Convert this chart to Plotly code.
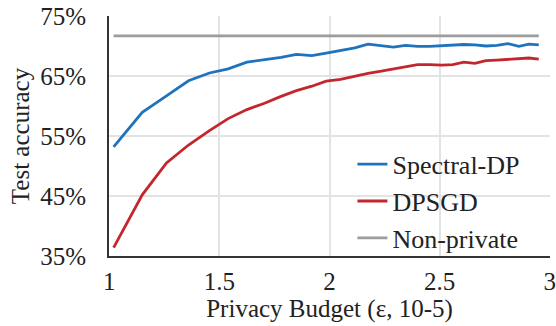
import plotly.graph_objects as go

# Privacy budget (epsilon, delta = 1e-5) at each evaluation point
epsilon = [1.02, 1.15, 1.26, 1.36, 1.455, 1.54, 1.625, 1.705, 1.78, 1.85,
           1.92, 1.985, 2.05, 2.115, 2.175, 2.235, 2.29, 2.345, 2.40, 2.455,
           2.51, 2.56, 2.61, 2.66, 2.71, 2.76, 2.81, 2.86, 2.905, 2.95]

# Test accuracy (%) per method
spectral_dp = [53.2, 58.95, 61.7, 64.2, 65.5, 66.2, 67.3, 67.7, 68.1, 68.6,
               68.4, 68.8, 69.2, 69.7, 70.3, 70.05, 69.8, 70.1, 69.95, 69.95,
               70.05, 70.2, 70.25, 70.2, 70.0, 70.1, 70.4, 69.95, 70.3, 70.2]
dpsgd = [36.4, 45.2, 50.5, 53.5, 55.9, 57.9, 59.4, 60.45, 61.6, 62.55,
         63.3, 64.15, 64.45, 65.0, 65.45, 65.8, 66.2, 66.6, 66.9, 66.9,
         66.8, 66.9, 67.3, 67.1, 67.55, 67.65, 67.8, 67.95, 68.0, 67.8]
non_private_acc = 71.7

x_ticks = [1, 1.5, 2, 2.5, 3]
x_tick_labels = ["1", "1.5", "2", "2.5", "3"]
y_ticks = [35, 45, 55, 65, 75]
y_tick_labels = ["35%", "45%", "55%", "65%", "75%"]

series = [
    ("Spectral-DP", spectral_dp, "#1f73bd"),
    ("DPSGD", dpsgd, "#c3272e"),
    ("Non-private", [non_private_acc] * len(epsilon), "#9c9c9c"),
]

FAMILY = "Liberation Serif"
TEXT = "#222222"
SIZE = 25

fig = go.Figure()
for i, (name, vals, color) in enumerate(series):
    fig.add_trace(go.Scatter(
        x=epsilon, y=vals, name=name, mode="lines",
        line=dict(color=color, width=2.8),
        legendgroup=f"g{i}",
    ))

fig.update_layout(
    width=556, height=326,
    margin=dict(l=109, r=6, t=16, b=70),
    plot_bgcolor="white", paper_bgcolor="white",
    font=dict(family=FAMILY, size=SIZE, color=TEXT),
    showlegend=True,
    legend=dict(
        x=0.552, y=0.48, xanchor="left", yanchor="top",
        bgcolor="rgba(0,0,0,0)",
        font=dict(family=FAMILY, size=26, color=TEXT),
        traceorder="grouped", tracegroupgap=0, itemwidth=30,
    ),
    xaxis=dict(
        range=[0.999, 3.001], tickvals=x_ticks, ticktext=x_tick_labels,
        tickfont=dict(family=FAMILY, size=SIZE, color=TEXT),
        ticklabeloverflow="allow",
        showgrid=True, gridcolor="#e3e3e3", gridwidth=1.5,
        showline=True, linecolor="#333333", linewidth=2,
        ticks="", ticklabelstandoff=2, zeroline=False, automargin=False,
        title=dict(text="Privacy Budget (ε, 10-5)", standoff=0,
                   font=dict(family=FAMILY, size=SIZE, color=TEXT)),
    ),
    yaxis=dict(
        range=[35, 75], tickvals=y_ticks, ticktext=y_tick_labels,
        tickfont=dict(family=FAMILY, size=SIZE, color=TEXT),
        showgrid=True, gridcolor="#e3e3e3", gridwidth=1.5,
        showline=True, linecolor="#333333", linewidth=2,
        ticks="", ticklabelstandoff=16, zeroline=False, automargin=False,
        title=dict(text="Test accuracy", standoff=3,
                   font=dict(family=FAMILY, size=SIZE, color=TEXT)),
    ),
)

fig.write_html("out.html")
